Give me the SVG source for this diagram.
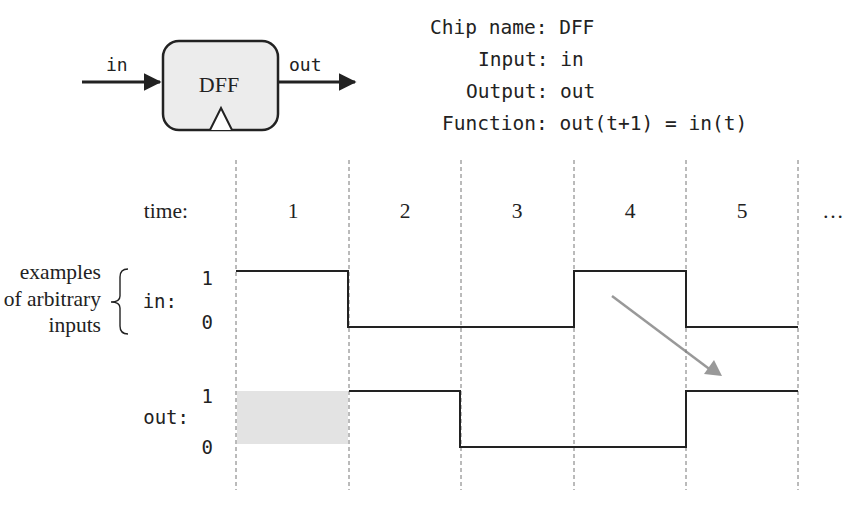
<svg xmlns="http://www.w3.org/2000/svg" width="857" height="509" viewBox="0 0 857 509">
<style>
.mono{font-family:"DejaVu Sans Mono","Liberation Mono",monospace;fill:#222}
.serif{font-family:"Liberation Serif","DejaVu Serif",serif;fill:#222}
.grid{stroke:#777;stroke-width:1;stroke-dasharray:4 3;fill:none}
.sig{stroke:#222;stroke-width:2;fill:none;stroke-linejoin:miter}
.wire{stroke:#222;stroke-width:3;fill:none}
</style>
<defs>
<marker id="ah" markerWidth="6" markerHeight="6" refX="5.5" refY="3" orient="auto" markerUnits="strokeWidth"><path d="M0,0 L6,3 L0,6 z" fill="#222"/></marker>
</defs>
<rect width="857" height="509" fill="#fff"/>
<g id="dff">
<rect x="163" y="41" width="115" height="89" rx="16" fill="#ececec" stroke="#222" stroke-width="2.5"/>
<text x="219" y="92" class="serif" font-size="22" text-anchor="middle">DFF</text>
<path d="M210,130 L221,108 L232,130" fill="#fff" stroke="#222" stroke-width="2"/>
</g>
<g id="connectors">
<line x1="82" y1="82" x2="160" y2="82" class="wire" marker-end="url(#ah)"/>
<line x1="279" y1="82" x2="355" y2="82" class="wire" marker-end="url(#ah)"/>
<line x1="612" y1="296" x2="712" y2="371" stroke="#999" stroke-width="2.5"/>
<path d="M722,376 L704,374 L714,360 z" fill="#999"/>
</g>
<text x="106" y="71" class="mono" font-size="18">in</text>
<text x="289" y="71" class="mono" font-size="18">out</text>
<g id="spec" class="mono" font-size="19.5">
<text x="430" y="34">Chip name: DFF</text>
<text x="478" y="66">Input: in</text>
<text x="466" y="98">Output: out</text>
<text x="442" y="130">Function: out(t+1) = in(t)</text>
</g>
<g id="grid">
<line x1="236" y1="160" x2="236" y2="490" class="grid"/>
<line x1="349" y1="160" x2="349" y2="490" class="grid"/>
<line x1="461" y1="160" x2="461" y2="490" class="grid"/>
<line x1="574" y1="160" x2="574" y2="490" class="grid"/>
<line x1="686" y1="160" x2="686" y2="490" class="grid"/>
<line x1="798" y1="160" x2="798" y2="490" class="grid"/>
</g>
<g id="time" class="serif" font-size="21.5">
<text x="188" y="218" text-anchor="end">time:</text>
<text x="293" y="218" text-anchor="middle">1</text>
<text x="405" y="218" text-anchor="middle">2</text>
<text x="517" y="218" text-anchor="middle">3</text>
<text x="630" y="218" text-anchor="middle">4</text>
<text x="742" y="218" text-anchor="middle">5</text>
<text x="833" y="218" text-anchor="middle">…</text>
</g>
<rect x="237" y="391" width="111" height="53" fill="#e3e3e3"/>
<g id="in-signal">
<path d="M236,271 L348,271 L348,327 L574,327 L574,271 L686,271 L686,327 L798,327" class="sig"/>
</g>
<g id="out-signal">
<path d="M349,391 L460,391 L460,447 L686,447 L686,391 L798,391" class="sig"/>
</g>
<g id="labels" class="mono" font-size="19">
<text x="213" y="285" text-anchor="end">1</text>
<text x="213" y="329" text-anchor="end">0</text>
<text x="177" y="308" text-anchor="end">in:</text>
<text x="213" y="403" text-anchor="end">1</text>
<text x="213" y="454" text-anchor="end">0</text>
<text x="189" y="424" text-anchor="end">out:</text>
</g>
<g id="note" class="serif" font-size="21.5">
<text x="101" y="279" text-anchor="end">examples</text>
<text x="101" y="306" text-anchor="end">of arbitrary</text>
<text x="101" y="332" text-anchor="end">inputs</text>
<path d="M128,269 Q120,269 120,277 L120,296 Q120,302 111,302 Q120,302 120,308 L120,326 Q120,334 128,334" fill="none" stroke="#222" stroke-width="1.4"/>
</g>
</svg>
